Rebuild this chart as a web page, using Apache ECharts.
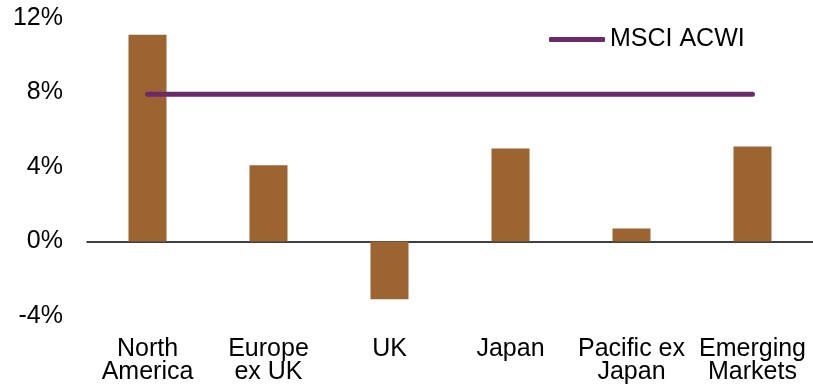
<!DOCTYPE html>
<html>
<head>
<meta charset="utf-8">
<script src="https://cdn.jsdelivr.net/npm/echarts@6/dist/echarts.min.js"></script>
<style>
  html, body { margin: 0; padding: 0; background: #fff; }
  #chart { width: 813px; height: 392px; }
</style>
</head>
<body>
<div id="chart"></div>
<script>
// Regional returns vs. the global index
const regions = ['North\nAmerica', 'Europe\nex UK', 'UK', 'Japan', 'Pacific ex\nJapan', 'Emerging\nMarkets'];
const regionReturns = [11.1, 4.1, -3.1, 5.0, 0.7, 5.1];
const acwiName = 'MSCI ACWI';
const acwiReturn = [7.9, 7.9, 7.9, 7.9, 7.9, 7.9];
const yTicks = { min: -4, max: 12, step: 4 };

const FONT = '"Liberation Sans", Arial, sans-serif';
const chart = echarts.init(document.getElementById('chart'), null, { renderer: 'canvas' });

chart.setOption({
  animation: false,
  backgroundColor: '#ffffff',
  textStyle: { fontFamily: FONT },
  legend: {
    data: [acwiName],
    left: 549,
    top: 27,
    padding: 0,
    icon: 'roundRect',
    itemWidth: 56,
    itemHeight: 5,
    textStyle: { fontSize: 25, color: '#000', fontFamily: FONT }
  },
  grid: { left: 87, top: 18, width: 728, height: 298, containLabel: false },
  xAxis: [
    {
      type: 'category',
      data: regions,
      axisLine: { onZero: true, lineStyle: { color: '#000', width: 1.5 } },
      axisTick: { show: false },
      axisLabel: { show: false }
    },
    {
      type: 'category',
      data: regions,
      position: 'bottom',
      axisLine: { show: false, onZero: false },
      axisTick: { show: false },
      axisLabel: { color: '#000', fontSize: 25, lineHeight: 23, margin: 22, fontFamily: FONT, interval: 0 }
    }
  ],
  yAxis: {
    type: 'value',
    min: yTicks.min,
    max: yTicks.max,
    interval: yTicks.step,
    axisLine: { show: false },
    axisTick: { show: false },
    splitLine: { show: false },
    axisLabel: { formatter: '{value}%', color: '#000', fontSize: 25, margin: 24, fontFamily: FONT }
  },
  series: [
    {
      type: 'bar',
      name: 'Return',
      xAxisIndex: 0,
      data: regionReturns,
      barWidth: 38,
      itemStyle: { color: '#9c6431' }
    },
    {
      type: 'line',
      name: acwiName,
      xAxisIndex: 0,
      data: acwiReturn,
      showSymbol: false,
      symbol: 'none',
      itemStyle: { color: '#6b2a69' },
      lineStyle: { color: '#6b2a69', width: 5, cap: 'round' }
    }
  ]
});
</script>
</body>
</html>
